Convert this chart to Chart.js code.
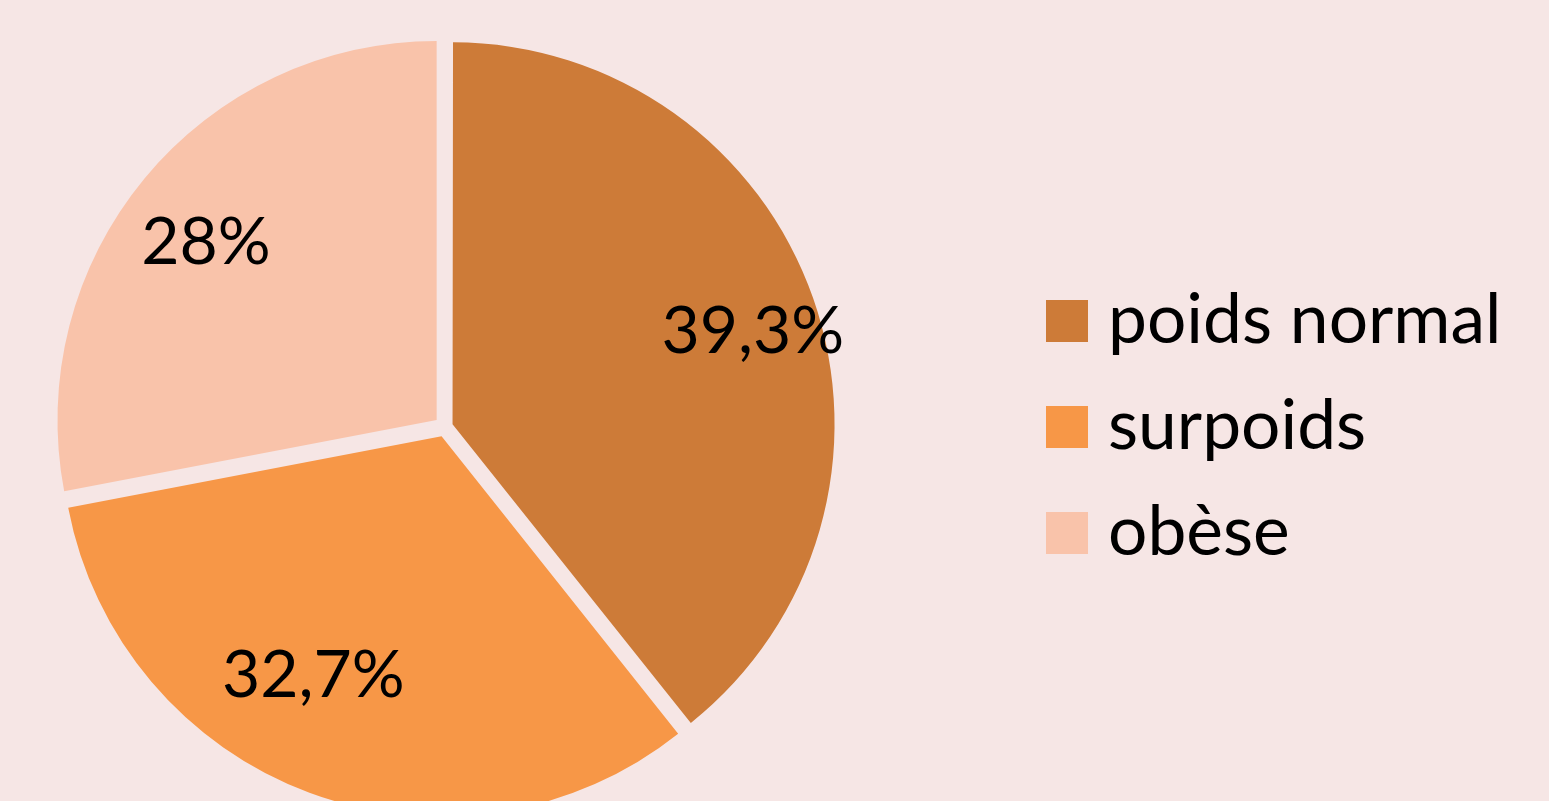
<!DOCTYPE html>
<html>
<head>
<meta charset="utf-8">
<script src="https://cdn.jsdelivr.net/npm/chart.js@4"></script>
<style>
  html, body { margin: 0; padding: 0; background: #F6E6E5; overflow: hidden; }
  #wrap { position: relative; width: 1549px; height: 801px; }
  canvas { position: absolute; left: 0; top: 0; }
  #legend { position: absolute; left: 1046px; top: 300px; font-family: Lato, "Open Sans", sans-serif; font-size: 69.5px; color: #000; }
  .item { position: relative; height: 42px; margin-bottom: 64px; white-space: nowrap; }
  .box { position: absolute; left: 0; top: 0; width: 42px; height: 42px; }
  .txt { position: absolute; left: 62px; top: -5px; line-height: 42px; }
</style>
</head>
<body>
<div id="wrap">
  <canvas id="c" width="1549" height="801"></canvas>
  <div id="legend"></div>
</div>
<script>
const categories = ['poids normal', 'surpoids', 'obèse'];
const values = [39.3, 32.7, 28];
const colors = ['#CD7B38', '#F79747', '#F9C3AA'];

// label placement relative to each slice: fraction of radius and angular shift (deg)
const labelFrac = [0.823, 0.708, 0.77];
const labelShift = [1.7, 8.1, -1.8];
const sliceOffset = 11; // desired visual explosion in px

const fmt = v => String(v).replace('.', ',') + '%';
const total = values.reduce((a, b) => a + b, 0);

// Chart.js arc draws offset/4 * (1 + fix) where fix = 1 - sin(min(PI, circumference))
function arcOffset(ctx) {
  const v = values[ctx.dataIndex];
  if (v === undefined) return 0;
  const circ = v / total * 2 * Math.PI;
  const fix = 1 - Math.sin(Math.min(Math.PI, circ));
  return 4 * sliceOffset / (1 + fix);
}

const labelPlugin = {
  id: 'sliceLabels',
  afterDatasetsDraw(chart) {
    const ctx = chart.ctx;
    const meta = chart.getDatasetMeta(0);
    ctx.save();
    ctx.font = '66px Lato, "Open Sans", sans-serif';
    ctx.fillStyle = '#000';
    ctx.textAlign = 'center';
    ctx.textBaseline = 'middle';
    meta.data.forEach((arc, i) => {
      const p = arc.getProps(['x', 'y', 'startAngle', 'endAngle', 'outerRadius'], true);
      const mid = (p.startAngle + p.endAngle) / 2;
      const cx = p.x + Math.cos(mid) * sliceOffset;
      const cy = p.y + Math.sin(mid) * sliceOffset;
      const a = mid + labelShift[i] * Math.PI / 180;
      const d = labelFrac[i] * p.outerRadius;
      ctx.fillText(fmt(values[i]), cx + Math.cos(a) * d, cy + Math.sin(a) * d + 2);
    });
    ctx.restore();
  }
};

new Chart(document.getElementById('c'), {
  type: 'pie',
  data: {
    labels: categories,
    datasets: [{
      data: values,
      backgroundColor: colors,
      borderWidth: 0,
      offset: arcOffset,
      hoverOffset: 0
    }]
  },
  options: {
    responsive: false,
    animation: false,
    events: [],
    radius: 379,
    layout: { padding: { left: 0, right: 659, top: 53, bottom: 0 } },
    plugins: { legend: { display: false }, tooltip: { enabled: false } }
  },
  plugins: [labelPlugin]
});

const legend = document.getElementById('legend');
categories.forEach((c, i) => {
  const it = document.createElement('div');
  it.className = 'item';
  it.innerHTML = '<div class="box" style="background:' + colors[i] + '"></div><span class="txt">' + c + '</span>';
  legend.appendChild(it);
});
</script>
</body>
</html>
